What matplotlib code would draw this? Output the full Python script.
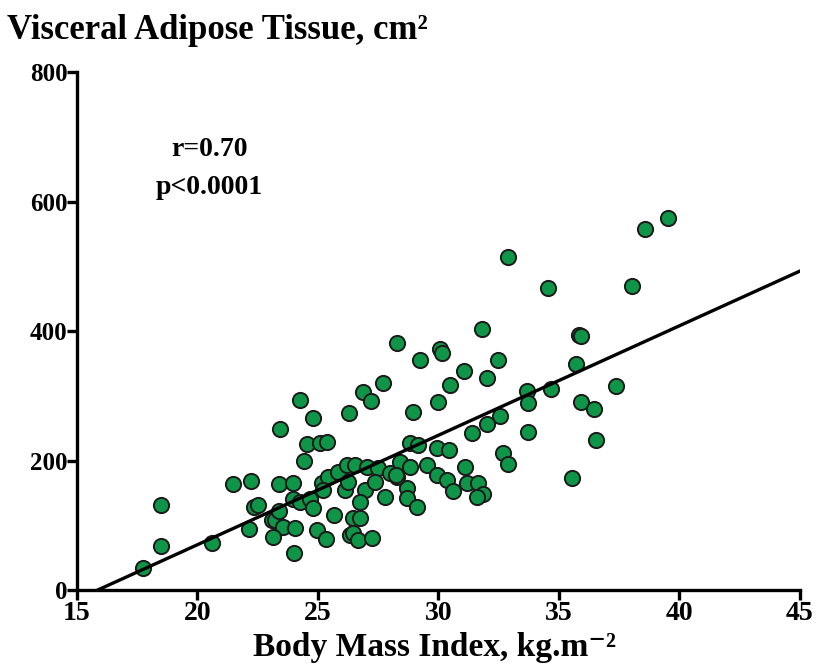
import numpy as np
import matplotlib
matplotlib.use('Agg')
import matplotlib.pyplot as plt

# body mass index (kg/m2) and visceral adipose tissue (cm2)
bmi = [17.75, 18.49, 18.49, 20.59, 21.49, 22.22, 22.14, 22.34, 22.5, 23.38,
       23.98, 23.42, 24.56, 24.44, 25.08, 25.36, 23.08, 23.22, 23.39, 23.56,
       23.15, 24.0, 24.05, 24.95, 25.33, 25.66, 23.97, 24.25, 24.67, 24.8,
       25.15, 25.43, 25.84, 26.19, 26.12, 26.26, 26.33, 24.25, 24.8, 26.27,
       26.53, 27.02, 27.5, 27.99, 28.4, 28.82, 28.82, 29.16, 29.51, 29.95,
       30.45, 29.95, 30.37, 25.22, 26.95, 27.37, 27.78, 26.74, 28.68, 28.68,
       29.1, 28.27, 28.23, 26.47, 26.74, 26.47, 26.67, 27.23, 28.27, 29.23,
       30.06, 30.13, 27.71, 26.88, 27.19, 28.96, 29.99, 30.5, 31.83, 32.48,
       32.0, 31.07, 33.66, 33.73, 34.69, 33.73, 32.55, 32.0, 31.38, 32.69,
       32.9, 31.1, 31.17, 31.65, 31.86, 31.59, 30.61, 39.54, 38.57, 32.9,
       34.56, 38.02, 35.83, 35.94, 35.71, 37.36, 35.9, 36.47, 36.54, 35.53]
vat = [34, 68, 131, 72, 164, 169, 94, 128, 131, 164,
       165, 249, 225, 200, 227, 228, 108, 108, 122, 98,
       82, 57, 96, 93, 79, 116, 140, 136, 141, 126,
       166, 175, 183, 193, 154, 167, 85, 294, 265, 273,
       193, 190, 188, 180, 198, 190, 227, 224, 193, 220,
       216, 178, 170, 154, 154, 167, 144, 136, 157, 142,
       129, 175, 178, 111, 111, 88, 77, 80, 382, 355,
       373, 366, 320, 306, 292, 275, 291, 317, 403, 356,
       327, 339, 308, 289, 311, 244, 269, 257, 242, 211,
       195, 190, 165, 165, 148, 144, 153, 574, 557, 515,
       467, 470, 394, 392, 349, 315, 290, 280, 232, 173]

# regression line
fit_slope = 16.9
fit_intercept = -268.0

plt.rcParams['font.family'] = ['Liberation Serif', 'DejaVu Serif']
plt.rcParams['font.weight'] = 'bold'

fig = plt.figure(figsize=(8.16, 6.67), dpi=100)
ax = fig.add_axes([0.0944, 0.1154, 0.8857, 0.7766])

ax.scatter(bmi, vat, s=120, c='#0f9548', edgecolors='#1a1a1a', linewidths=1.4, zorder=3)

x0 = -fit_intercept / fit_slope
xx = np.array([x0, 45.0])
ax.plot(xx, fit_intercept + fit_slope * xx, color='black', lw=2.4, zorder=4)

ax.set_xlim(15, 45)
ax.set_ylim(0, 800)
ax.set_xticks([15, 20, 25, 30, 35, 40, 45])
ax.set_yticks([0, 200, 400, 600, 800])

for s in ['top', 'right']:
    ax.spines[s].set_visible(False)
for s in ['left', 'bottom']:
    ax.spines[s].set_linewidth(2.4)
ax.tick_params(axis='both', direction='out', length=7, width=2.4, colors='black')
ax.tick_params(axis='x', labelsize=20, pad=1)
ax.tick_params(axis='y', labelsize=18, pad=0)
for lab in ax.get_xticklabels() + ax.get_yticklabels():
    lab.set_fontweight('bold')

ax.text(20.5, 680, 'r=0.70', ha='center', va='center', fontsize=20, fontweight='bold')
ax.text(20.5, 621, 'p<0.0001', ha='center', va='center', fontsize=20, fontweight='bold')

fig.text(0.008, 0.942, 'Visceral Adipose Tissue, cm²', ha='left', va='baseline',
         fontsize=25, fontweight='bold')
fig.text(0.532, 0.016, 'Body Mass Index, kg.m⁻²', ha='center', va='baseline',
         fontsize=24, fontweight='bold')

fig.savefig('out.png', dpi=100)
